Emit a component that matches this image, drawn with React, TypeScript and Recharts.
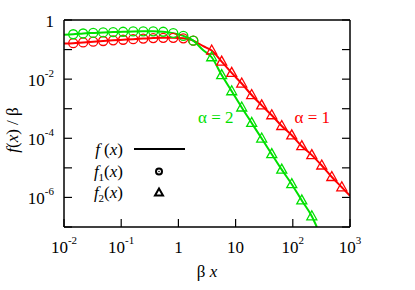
import React from 'react';
import { ComposedChart, Line, Scatter, XAxis, YAxis, Legend, ReferenceDot, Label } from 'recharts';

const RED = '#ff0000';
const GREEN = '#00e000';
const FONT = "'Liberation Serif', 'Times New Roman', Times, 'DejaVu Serif', serif";
const txt = { fontFamily: FONT };

// axis ticks (decades)
const xTicks = [0.01, 0.1, 1, 10, 100, 1000];
const yTicks = [1e-7, 1e-6, 1e-5, 1e-4, 1e-3, 1e-2, 1e-1, 1];

// small-x samples (circles)
const circleX = [0.0145, 0.0216, 0.0324, 0.0484, 0.0724, 0.108, 0.162, 0.243, 0.363, 0.543, 0.813, 1.22, 1.82];
const circleRed = [0.165, 0.175, 0.185, 0.195, 0.205, 0.215, 0.225, 0.235, 0.245, 0.25, 0.25, 0.24, 0.2];
const circleGreen = [0.33, 0.35, 0.365, 0.38, 0.39, 0.4, 0.41, 0.415, 0.415, 0.4, 0.36, 0.29, 0.2];

// large-x samples (triangles)
const triX = [3.82, 5.71, 8.55, 12.8, 19.1, 28.6, 42.9, 64.1, 95.9, 143.5, 215, 321, 481, 719];
const triRed = [0.093, 0.039, 0.0163, 0.0071, 0.0029, 0.0013, 6.0e-4, 2.6e-4, 1.26e-4, 5.4e-5, 2.7e-5, 1.2e-5, 4.9e-6, 2.2e-6];
const triGreen = [0.055, 0.0137, 0.0039, 0.0011, 3.3e-4, 9.8e-5, 2.9e-5, 8.7e-6, 2.8e-6, 7.9e-7, 2.3e-7];

// extra curve points (start, knee, end)
const redCurveExtraX = [0.01, 2.72, 1000];
const redCurveExtraY = [0.16, 0.13, 1.14e-6];
const greenCurveExtraX = [0.01, 2.72, 263];
const greenCurveExtraY = [0.32, 0.095, 1.0e-7];

const toPts = (xs: number[], ys: number[]) => ys.map((y, i) => ({ x: xs[i], y }));
const curve = (parts: { x: number; y: number }[][]) => parts.flat().sort((a, b) => a.x - b.x);

const redCircles = toPts(circleX, circleRed);
const greenCircles = toPts(circleX, circleGreen);
const redTris = toPts(triX, triRed);
const greenTris = toPts(triX, triGreen);
const redCurve = curve([redCircles, redTris, toPts(redCurveExtraX, redCurveExtraY)]);
const greenCurve = curve([greenCircles, greenTris, toPts(greenCurveExtraX, greenCurveExtraY)]);

const TICK_LEN = 8;

const PowLabel = ({ x, y, e, anchor }: any) => (
  <text x={x} y={y} textAnchor={anchor} style={txt} fontSize={17} fill="#000">
    {e === 0 ? '1' : e === 1 ? '10' : (
      <>
        10<tspan dy={-9} fontSize={11}>{String(e)}</tspan>
      </>
    )}
  </text>
);

const exp10 = (v: number) => Math.round(Math.log10(v));

const BottomTick = ({ x, y, payload }: any) => (
  <g>
    <line x1={x} x2={x} y1={y} y2={y - TICK_LEN} stroke="#000" strokeWidth={1.2} />
    <PowLabel x={x} y={y + 26} e={exp10(payload.value)} anchor="middle" />
  </g>
);

const TopTick = ({ x, y }: any) => (
  <line x1={x} x2={x} y1={y} y2={y + TICK_LEN} stroke="#000" strokeWidth={1.2} />
);

const LeftTick = ({ x, y, payload }: any) => {
  const e = exp10(payload.value);
  return (
    <g>
      <line x1={x} x2={x + TICK_LEN} y1={y} y2={y} stroke="#000" strokeWidth={1.2} />
      {e % 2 === 0 && <PowLabel x={x - 10} y={y + 7} e={e} anchor="end" />}
    </g>
  );
};

const RightTick = ({ x, y }: any) => (
  <line x1={x} x2={x - TICK_LEN} y1={y} y2={y} stroke="#000" strokeWidth={1.2} />
);

const OpenCircle = (color: string) => (p: any) => (
  <circle cx={p.cx} cy={p.cy} r={4.5} fill="none" stroke={color} strokeWidth={1.3} />
);

const OpenTriangle = (color: string) => (p: any) => (
  <path
    d={`M${p.cx},${p.cy - 5.5}L${p.cx - 5},${p.cy + 3.5}L${p.cx + 5},${p.cy + 3.5}Z`}
    fill="none"
    stroke={color}
    strokeWidth={1.3}
  />
);

const LegendBox = () => (
  <svg width={130} height={70} style={{ overflow: 'visible' }}>
    <g style={txt} fontSize={17} fill="#000" textAnchor="end">
      <text x={53} y={17}>
        <tspan fontStyle="italic">f</tspan> (<tspan fontStyle="italic">x</tspan>)
      </text>
      <text x={53} y={39}>
        <tspan fontStyle="italic">f</tspan>
        <tspan fontSize={11} dy={4}>1</tspan>
        <tspan dy={-4}>(</tspan>
        <tspan fontStyle="italic">x</tspan>)
      </text>
      <text x={53} y={60}>
        <tspan fontStyle="italic">f</tspan>
        <tspan fontSize={11} dy={4}>2</tspan>
        <tspan dy={-4}>(</tspan>
        <tspan fontStyle="italic">x</tspan>)
      </text>
    </g>
    <line x1={64} x2={115} y1={11} y2={11} stroke="#000" strokeWidth={2} />
    <circle cx={89} cy={33.5} r={3} fill="none" stroke="#000" strokeWidth={2} />
    <circle cx={89} cy={33.5} r={0.8} fill="#000" />
    <path d="M89,50.5L85,57.5L93,57.5Z" fill="none" stroke="#000" strokeWidth={2} strokeLinejoin="miter" />
  </svg>
);

const AlphaText = (text: string, color: string) => (p: any) => (
  <text x={p.cx} y={p.cy} textAnchor="middle" style={txt} fontSize={17} fill={color}>
    {text}
  </text>
);

const frame = { stroke: '#000', strokeWidth: 1.5 };

export default function App() {
  return (
    <div style={{ position: 'absolute', left: 0, top: 0, width: 415, height: 290, background: '#fff', fontFamily: FONT }}>
      <ComposedChart width={415} height={290} margin={{ top: 15, right: 60, bottom: 23, left: 10 }}>
        <XAxis
          xAxisId="b"
          dataKey="x"
          type="number"
          scale="log"
          domain={[0.01, 1000]}
          allowDataOverflow
          ticks={xTicks}
          interval={0}
          height={40}
          tickSize={0}
          tickMargin={0}
          tickLine={false}
          axisLine={frame}
          tick={BottomTick}
        >
          <Label
            content={() => (
              <text x={207} y={277} textAnchor="middle" style={txt} fontSize={17} fill="#000">
                β <tspan fontStyle="italic">x</tspan>
              </text>
            )}
          />
        </XAxis>
        <XAxis
          xAxisId="t"
          orientation="top"
          type="number"
          scale="log"
          domain={[0.01, 1000]}
          allowDataOverflow
          ticks={xTicks}
          interval={0}
          height={5}
          tickSize={0}
          tickMargin={0}
          tickLine={false}
          axisLine={frame}
          tick={TopTick}
        />
        <YAxis
          yAxisId="l"
          dataKey="y"
          type="number"
          scale="log"
          domain={[1e-7, 1]}
          allowDataOverflow
          ticks={yTicks}
          interval={0}
          width={54}
          tickSize={0}
          tickMargin={0}
          tickLine={false}
          axisLine={frame}
          tick={LeftTick}
        >
          <Label
            content={() => (
              <text
                x={18}
                y={130}
                textAnchor="middle"
                style={txt}
                fontSize={17}
                fill="#000"
                transform="rotate(-90, 18, 130)"
              >
                <tspan fontStyle="italic">f</tspan>(<tspan fontStyle="italic">x</tspan>) / β
              </text>
            )}
          />
        </YAxis>
        <YAxis
          yAxisId="r"
          orientation="right"
          type="number"
          scale="log"
          domain={[1e-7, 1]}
          allowDataOverflow
          ticks={yTicks}
          interval={0}
          width={5}
          tickSize={0}
          tickMargin={0}
          tickLine={false}
          axisLine={frame}
          tick={RightTick}
        />

        <Line xAxisId="b" yAxisId="l" data={redCurve} dataKey="y" type="monotone" stroke={RED} strokeWidth={2} dot={false} isAnimationActive={false} />
        <Line xAxisId="b" yAxisId="l" data={greenCurve} dataKey="y" type="monotone" stroke={GREEN} strokeWidth={2} dot={false} isAnimationActive={false} />
        <Scatter xAxisId="b" yAxisId="l" data={redCircles} shape={OpenCircle(RED)} isAnimationActive={false} />
        <Scatter xAxisId="b" yAxisId="l" data={greenCircles} shape={OpenCircle(GREEN)} isAnimationActive={false} />
        <Scatter xAxisId="b" yAxisId="l" data={redTris} shape={OpenTriangle(RED)} isAnimationActive={false} />
        <Scatter xAxisId="b" yAxisId="l" data={greenTris} shape={OpenTriangle(GREEN)} isAnimationActive={false} />

        <ReferenceDot xAxisId="b" yAxisId="l" x={4.5} y={3.2e-4} r={0} shape={AlphaText('α = 2', GREEN)} />
        <ReferenceDot xAxisId="b" yAxisId="l" x={219} y={3.2e-4} r={0} shape={AlphaText('α = 1', RED)} />

        <Legend
          layout="vertical"
          align="center"
          verticalAlign="middle"
          wrapperStyle={{ left: 70, top: 138, width: 130, height: 70 }}
          content={() => <LegendBox />}
        />
      </ComposedChart>
    </div>
  );
}
